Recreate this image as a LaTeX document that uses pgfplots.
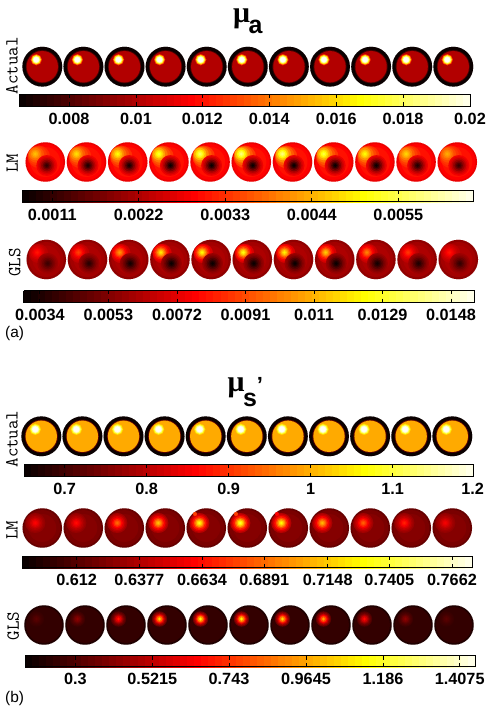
\documentclass[border=0pt]{standalone}
\usepackage{pgfplots}
\usepackage{pgfplotstable}
\usepackage{fontspec}
\setmainfont{Liberation Sans}
\newfontfamily\serifb{Liberation Serif}
\pgfplotsset{compat=1.18}
\pgfplotsset{
  disc/.style={only marks,scatter,mark=*,mark size=#1,point meta=explicit,
    mark options={line width=0.01pt},
    scatter/use mapped color={draw=mapped color,fill=mapped color}},
  tk/.style={only marks,mark=|,mark size=1.9pt,black,mark options={line width=0.9pt}}
}
% disc centres and the strength of the bright (p) and dark (d) spot, on the 0-64 hot scale
\pgfplotstableread{
x y p d
42.3 66.7 64 0
83.4 66.7 64 0
124.5 66.7 64 0
165.6 66.7 64 0
206.7 66.7 64 0
247.8 66.7 64 0
288.9 66.7 64 0
330 66.7 64 0
371.1 66.7 64 0
412.2 66.7 64 0
453.3 66.7 64 0
}\ActA
\pgfplotstableread{
x y p d
45.3 162 42 4
86.5 162 45 2
127.7 162 48 1
168.9 162 51 0
210.1 162 54 0
251.3 162 56 0
292.5 162 56 0
333.7 162 52 0
374.9 162 48 0
416.1 162 44 2
457.3 162 40 4
}\LMA
\pgfplotstableread{
x y p d
46.3 259.5 26 5
87.5 259.5 30 3
128.7 259.5 38 1
169.9 259.5 46 0
211.1 259.5 48 0
252.3 259.5 49 0
293.5 259.5 47 0
334.7 259.5 43 0
375.9 259.5 36 1
417.1 259.5 29 2
458.3 259.5 26 4
}\GLSA
\pgfplotstableread{
x y p d
41.3 436.3 64 0
82.4 436.3 64 0
123.5 436.3 64 0
164.6 436.3 64 0
205.7 436.3 64 0
246.8 436.3 64 0
287.9 436.3 64 0
329 436.3 64 0
370.1 436.3 64 0
411.2 436.3 64 0
452.3 436.3 64 0
}\ActB
\pgfplotstableread{
x y p d
42.3 528 24 0
83.3 528 25 0
124.3 528 34 0
165.3 528 42 0
206.3 528 49 0
247.3 528 51 0
288.3 528 48 0
329.3 528 41 0
370.3 528 33 0
411.3 528 27 0
452.3 528 23 0
}\LMB
\pgfplotstableread{
x y p d
44 625 8 0
85 625 13 0
126 625 27 0
167 625 44 0
208 625 49 0
249 625 48 0
290 625 45 0
331 625 40 0
372 625 25 0
413 625 13 0
454 625 8 0
}\GLSB
\pgfplotstableread{
x y m
195 514 30
236 514 30
277 514 24
}\Specks
% tick positions of the six colour bars
\pgfplotstableread{
x n
69 0
136 0
202.3 0
269.3 0
336.3 0
403 0
}\TA
\pgfplotstableread{
x n
52.3 0
138.7 0
225.3 0
311.8 0
398.3 0
}\TB
\pgfplotstableread{
x n
39.9 0
108.4 0
177 0
245.5 0
314 0
382.5 0
451 0
}\TC
\pgfplotstableread{
x n
64.7 0
146.7 0
228.7 0
310.7 0
392.7 0
}\TD
\pgfplotstableread{
x n
76.7 0
139.3 0
202 0
264.3 0
327.7 0
389.3 0
452 0
}\TE
\pgfplotstableread{
x n
75.3 0
152.3 0
229 0
306 0
383 0
459.7 0
}\TF
% the colour bar: steps of the 64-level map
\pgfplotstableread[row sep=\\]{
t v\\
0 0\\1 0\\2 0\\3 0\\4 0\\5 0\\6 0\\7 0\\8 0\\9 0\\10 0\\11 0\\12 0\\13 0\\14 0\\15 0\\
16 0\\17 0\\18 0\\19 0\\20 0\\21 0\\22 0\\23 0\\24 0\\25 0\\26 0\\27 0\\28 0\\29 0\\30 0\\31 0\\
32 0\\33 0\\34 0\\35 0\\36 0\\37 0\\38 0\\39 0\\40 0\\41 0\\42 0\\43 0\\44 0\\45 0\\46 0\\47 0\\
48 0\\49 0\\50 0\\51 0\\52 0\\53 0\\54 0\\55 0\\56 0\\57 0\\58 0\\59 0\\60 0\\61 0\\62 0\\63 0\\64 0\\
0 1\\1 1\\2 1\\3 1\\4 1\\5 1\\6 1\\7 1\\8 1\\9 1\\10 1\\11 1\\12 1\\13 1\\14 1\\15 1\\
16 1\\17 1\\18 1\\19 1\\20 1\\21 1\\22 1\\23 1\\24 1\\25 1\\26 1\\27 1\\28 1\\29 1\\30 1\\31 1\\
32 1\\33 1\\34 1\\35 1\\36 1\\37 1\\38 1\\39 1\\40 1\\41 1\\42 1\\43 1\\44 1\\45 1\\46 1\\47 1\\
48 1\\49 1\\50 1\\51 1\\52 1\\53 1\\54 1\\55 1\\56 1\\57 1\\58 1\\59 1\\60 1\\61 1\\62 1\\63 1\\64 1\\
}\Ramp
\newcommand\fdisc[3]{% table, meta, radius
  \addplot[disc={#3pt}] table[x=x,y=y,meta expr={#2}]{#1};}
\newcommand\lay[7]{% table, column, base, fraction, dx, dy, radius
  \addplot[disc={(#7)*1pt}] table[
    x expr={\thisrow{x}+(#5)*min(1,(19.4-(#7))/max(0.01,veclen(#5,#6)))},
    y expr={\thisrow{y}+(#6)*min(1,(19.4-(#7))/max(0.01,veclen(#5,#6)))},
    meta expr={#3+(\thisrow{#2}-(#3))*#4}]{#1};}
\newcommand\spot[6]{% table, column, base, dx, dy, sigma
  \lay{#1}{#2}{#3}{0.135}{#4}{#5}{2.0*#6}
  \lay{#1}{#2}{#3}{0.236}{#4}{#5}{1.7*#6}
  \lay{#1}{#2}{#3}{0.375}{#4}{#5}{1.4*#6}
  \lay{#1}{#2}{#3}{0.546}{#4}{#5}{1.1*#6}
  \lay{#1}{#2}{#3}{0.726}{#4}{#5}{0.8*#6}
  \lay{#1}{#2}{#3}{0.882}{#4}{#5}{0.5*#6}
  \lay{#1}{#2}{#3}{1.000}{#4}{#5}{0.25*#6}}
\newcommand\cbar[5]{% x0,x1,y0,y1, tick table
  \addplot[surf,shader=flat corner,mesh/rows=2,point meta=explicit] table[
    x expr={#1+(#2-#1)*\thisrow{t}/64},y expr={#3+(#4-#3)*\thisrow{v}},meta=t]{\Ramp};
  \addplot[black,line width=0.9pt] coordinates {(#1,#3)(#2,#3)(#2,#4)(#1,#4)(#1,#3)};
  \addplot[tk] table[x=x,y expr={#3+1.9}]{#5};
  \addplot[tk] table[x=x,y expr={#4-1.9}]{#5};}
\newcommand\lb[3]{\node[inner sep=0pt] at (axis cs:#1,#2) {\fontsize{16.3}{16}\selectfont\bfseries #3};}
\newcommand\sd[3]{\node[inner sep=0pt,rotate=90] at (axis cs:#1,#2) {\fontsize{18.5}{18}\selectfont\ttfamily #3};}
\begin{document}
\begin{tikzpicture}
\path[use as bounding box] (0,0) rectangle (492bp,712bp);
\begin{axis}[
  at={(0,0)},anchor=south west,
  width=492bp,height=712bp,scale only axis,
  xmin=0,xmax=492,ymin=0,ymax=712,y dir=reverse,
  hide axis,clip=false,
  colormap={mh}{rgb(0cm)=(0.04,0,0); rgb(3cm)=(1,0,0); rgb(6cm)=(1,1,0); rgb(8cm)=(1,1,0.97)},
  point meta min=0,point meta max=64]
% ---- mu_a Actual
\fdisc{\ActA}{0}{20}
\fdisc{\ActA}{6}{16.6}
\fdisc{\ActA}{16.5}{15.7}
\lay{\ActA}{p}{16.5}{0.25}{-6}{-7}{5.6}
\lay{\ActA}{p}{16.5}{0.55}{-6}{-7}{4.8}
\lay{\ActA}{p}{16.5}{0.75}{-6}{-7}{4.0}
\lay{\ActA}{p}{16.5}{0.92}{-6}{-7}{3.2}
\lay{\ActA}{p}{16.5}{1}{-6}{-7}{2.5}
% ---- mu_a LM
\fdisc{\LMA}{22}{19.8}
\fdisc{\LMA}{24}{18}
\fdisc{\LMA}{25.5}{15}
\spot{\LMA}{p}{25.5}{-10}{-8}{5.6}
\spot{\LMA}{d}{25.5}{1.5}{3.5}{5.2}
% ---- mu_a GLS
\fdisc{\GLSA}{13}{19.8}
\fdisc{\GLSA}{15}{17.5}
\fdisc{\GLSA}{16}{14}
\spot{\GLSA}{p}{16}{-9}{-7}{4.8}
\spot{\GLSA}{d}{16}{1.5}{4}{5.2}
% ---- mu_s Actual
\fdisc{\ActB}{0}{20}
\fdisc{\ActB}{8}{16.6}
\fdisc{\ActB}{40}{15.7}
\lay{\ActB}{p}{40}{0.2}{-6}{-7}{5.6}
\lay{\ActB}{p}{40}{0.45}{-6}{-7}{4.8}
\lay{\ActB}{p}{40}{0.7}{-6}{-7}{4.0}
\lay{\ActB}{p}{40}{0.9}{-6}{-7}{3.3}
\lay{\ActB}{p}{40}{1}{-6}{-7}{2.6}
% ---- mu_s LM
\fdisc{\LMB}{9}{19.8}
\fdisc{\LMB}{11}{18}
\fdisc{\LMB}{12}{14}
\spot{\LMB}{p}{12}{-7}{-5}{5}
\addplot[disc={2pt}] table[x=x,y=y,meta=m]{\Specks};
% ---- mu_s GLS
\fdisc{\GLSB}{2}{19.8}
\fdisc{\GLSB}{4}{18}
\spot{\GLSB}{p}{4}{-7.5}{-6}{3.8}
% ---- colour bars
\cbar{19}{470}{94.5}{106}{\TA}
\cbar{22.3}{473}{190}{201.7}{\TB}
\cbar{23.7}{474}{290.7}{302.3}{\TC}
\cbar{24}{473}{464.7}{476.3}{\TD}
\cbar{22}{472.3}{556.7}{567.7}{\TE}
\cbar{25.3}{475}{655.7}{666.7}{\TF}
% ---- bar labels
\lb{69}{119}{0.008}\lb{136}{119}{0.01}\lb{202.3}{119}{0.012}\lb{269.3}{119}{0.014}\lb{336.3}{119}{0.016}\lb{403}{119}{0.018}\lb{470}{119}{0.02}
\lb{52.3}{214.5}{0.0011}\lb{138.7}{214.5}{0.0022}\lb{225.3}{214.5}{0.0033}\lb{311.8}{214.5}{0.0044}\lb{398.3}{214.5}{0.0055}
\lb{39.9}{315}{0.0034}\lb{108.4}{315}{0.0053}\lb{177}{315}{0.0072}\lb{245.5}{315}{0.0091}\lb{314}{315}{0.011}\lb{382.5}{315}{0.0129}\lb{451}{315}{0.0148}
\lb{64.7}{488.7}{0.7}\lb{146.7}{488.7}{0.8}\lb{228.7}{488.7}{0.9}\lb{310.7}{488.7}{1}\lb{392.7}{488.7}{1.1}\lb{472.7}{488.7}{1.2}
\lb{76.7}{580}{0.612}\lb{139.3}{580}{0.6377}\lb{202}{580}{0.6634}\lb{264.3}{580}{0.6891}\lb{327.7}{580}{0.7148}\lb{389.3}{580}{0.7405}\lb{452}{580}{0.7662}
\lb{75.3}{679}{0.3}\lb{152.3}{679}{0.5215}\lb{229}{679}{0.743}\lb{306}{679}{0.9645}\lb{383}{679}{1.186}\lb{459.7}{679}{1.4075}
% ---- side labels
\sd{12}{65.8}{Actual}\sd{12.3}{163}{LM}\sd{14.7}{262.7}{GLS}
\sd{12}{439}{Actual}\sd{12}{530}{LM}\sd{13.3}{626}{GLS}
% ---- panel letters
\node[inner sep=0pt,anchor=west] at (axis cs:5,334) {\fontsize{15.5}{15.5}\selectfont (a)};
\node[inner sep=0pt,anchor=west] at (axis cs:5,698) {\fontsize{15.5}{15.5}\selectfont (b)};
% ---- titles
\node[inner sep=0pt] at (axis cs:241.5,19) {\fontsize{30}{30}\selectfont\serifb\bfseries μ};
\node[inner sep=0pt] at (axis cs:255.5,26.5) {\fontsize{25}{25}\selectfont\bfseries a};
\node[inner sep=0pt] at (axis cs:236,388) {\fontsize{30}{30}\selectfont\serifb\bfseries μ};
\node[inner sep=0pt] at (axis cs:250,400) {\fontsize{25}{25}\selectfont\bfseries s};
\node[inner sep=0pt] at (axis cs:260,385) {\fontsize{22}{22}\selectfont\bfseries '};
\end{axis}
\end{tikzpicture}
\end{document}
